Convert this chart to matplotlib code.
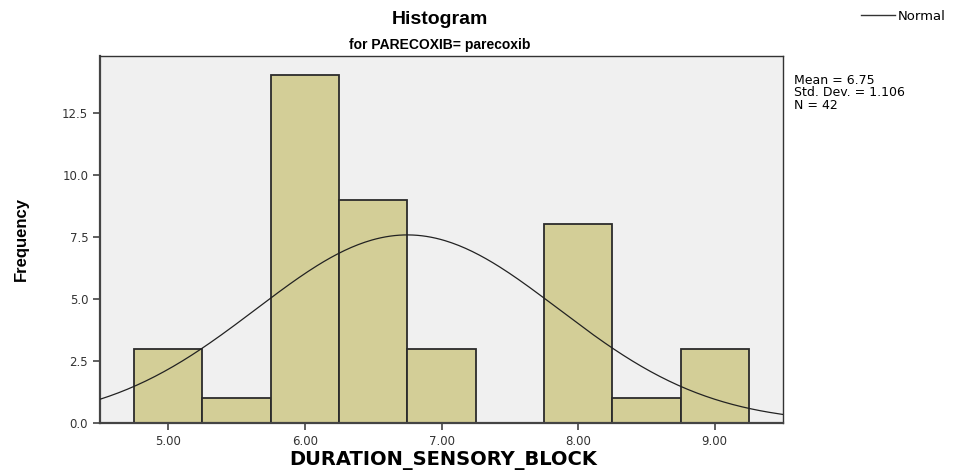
import numpy as np
import matplotlib
matplotlib.use('Agg')
from matplotlib import pyplot as plt
from matplotlib.lines import Line2D

# histogram data
bin_centers = [5.0, 5.5, 6.0, 6.5, 7.0, 7.5, 8.0, 8.5, 9.0]
counts = [3, 1, 14, 9, 3, 0, 8, 1, 3]
bin_width = 0.5
mean, std, n = 6.75, 1.106, 42
x_ticks = [5.0, 6.0, 7.0, 8.0, 9.0]
y_ticks = [0.0, 2.5, 5.0, 7.5, 10.0, 12.5]

plt.rcParams['font.family'] = ['Liberation Sans', 'DejaVu Sans']
wide = ['DejaVu Sans']

fig = plt.figure(figsize=(9.59, 4.73), dpi=100)
ax = fig.add_axes([0.1043, 0.1057, 0.7122, 0.7759])
ax.set_facecolor('#f0f0f0')

ax.bar(bin_centers, counts, width=bin_width, color='#d3ce97',
       edgecolor='#2b2b2b', linewidth=1.3, zorder=2)

# normal curve with the stated mean / sd, scaled to counts
xs = np.linspace(4.5, 9.5, 300)
ys = n * bin_width / (std * np.sqrt(2 * np.pi)) * np.exp(-0.5 * ((xs - mean) / std) ** 2)
ax.plot(xs, ys, color='#222222', linewidth=0.9, zorder=3)

ax.set_xlim(4.5, 9.5)
ax.set_ylim(0, 14.78)
ax.set_xticks(x_ticks)
ax.set_xticklabels(['%.2f' % v for v in x_ticks], family=wide)
ax.set_yticks(y_ticks)
ax.set_yticklabels(['%.1f' % v for v in y_ticks], family=wide)
ax.tick_params(direction='out', length=5, width=1.2, color='#444444',
               labelsize=8.5, labelcolor='#333333')

for side in ['left', 'bottom']:
    ax.spines[side].set_linewidth(1.6)
    ax.spines[side].set_color('#444444')
for side in ['top', 'right']:
    ax.spines[side].set_linewidth(1.0)
    ax.spines[side].set_color('#333333')

ax.set_xlabel('DURATION_SENSORY_BLOCK', fontsize=14, fontweight='bold',
              family=wide, va='center')
ax.xaxis.set_label_coords(0.502, -0.1035)
ax.set_ylabel('Frequency', fontsize=12, fontweight='bold', va='center')
ax.yaxis.set_label_coords(-0.1145, 0.501)

fig.text(0.459, 0.958, 'Histogram', ha='center', va='center', fontsize=14, fontweight='bold')
fig.text(0.459, 0.905, 'for PARECOXIB= parecoxib', ha='center', va='center',
         fontsize=10, fontweight='bold')

fig.text(0.828, 0.804, 'Mean = 6.75\nStd. Dev. = 1.106\nN = 42', ha='left', va='center',
         fontsize=9, linespacing=0.95, family=wide)

leg = fig.legend([Line2D([0], [0], color='#333333', linewidth=1.0)], ['Normal'],
                 loc='center left', bbox_to_anchor=(0.885, 0.965), frameon=False,
                 prop={'family': wide, 'size': 9.5}, handlelength=2.6, handletextpad=0.25)

fig.savefig('out.png', dpi=100)
